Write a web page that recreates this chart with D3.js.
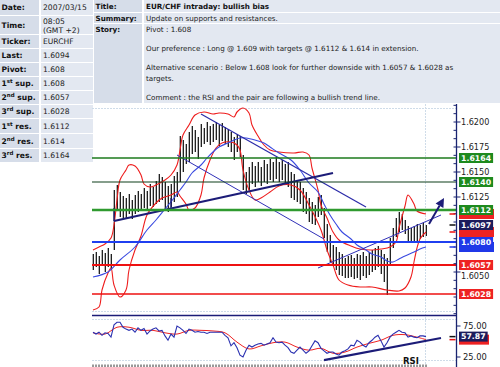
<!DOCTYPE html>
<html><head><meta charset="utf-8">
<script src="https://cdn.jsdelivr.net/npm/d3@7"></script>
<style>body{margin:0;background:#fff;} svg{display:block;}</style>
</head><body><svg id="c" width="500" height="367"></svg>
<script>
// ---------------- data ----------------
const infoLabels = ["Date:","Time:","Ticker:","Last:","Pivot:","1st sup.","2nd sup.","3rd sup.","1st res.","2nd res.","3rd res."];
const infoValues = ["2007/03/15","08:05|(GMT +2)","EURCHF","1.6094","1.608","1.608","1.6057","1.6028","1.6112","1.614","1.6164"];
const headLabels = ["Title:","Summary:","Story:"];
const headValues = ["EUR/CHF intraday: bullish bias","Update on supports and resistances."];
const storyParas = [
  ["Pivot : 1.608"],
  ["Our preference : Long @ 1.609 with targets @ 1.6112 & 1.614 in extension."],
  ["Alternative scenario : Below 1.608 look for further downside with 1.6057 & 1.6028 as","targets."],
  ["Comment : the RSI and the pair are following a bullish trend line."]
];

const barHigh = [1.6068,1.6070,1.6066,1.6072,1.6069,1.6074,1.6068,1.6132,1.6137,1.6130,
1.6126,1.6124,1.6128,1.6122,1.6127,1.6131,1.6128,1.6134,1.6131,1.6138,
1.6135,1.6141,1.6148,1.6145,1.6140,1.6136,1.6138,1.6146,1.6150,1.6186,
1.6182,1.6178,1.6190,1.6196,1.6192,1.6185,1.6198,1.6194,1.6200,1.6196,
1.6198,1.6200,1.6197,1.6199,1.6195,1.6193,1.6190,1.6185,1.6188,1.6186,
1.6167,1.6150,1.6155,1.6160,1.6156,1.6160,1.6155,1.6162,1.6158,1.6163,
1.6160,1.6165,1.6160,1.6162,1.6158,1.6160,1.6150,1.6148,1.6142,1.6140,
1.6134,1.6130,1.6124,1.6120,1.6117,1.6125,1.6127,1.6114,1.6098,1.6087,
1.6077,1.6075,1.6070,1.6068,1.6064,1.6066,1.6067,1.6064,1.6068,1.6067,
1.6070,1.6066,1.6070,1.6072,1.6074,1.6076,1.6072,1.6068,1.6064,1.6084,
1.6094,1.6104,1.6110,1.6108,1.6102,1.6096,1.6094,1.6096,1.6098,1.6097,
1.6099,1.6097];
const barLow = [1.6052,1.6055,1.6048,1.6056,1.6050,1.6055,1.6052,1.6072,1.6112,1.6105,
1.6104,1.6104,1.6108,1.6103,1.6108,1.6110,1.6112,1.6114,1.6113,1.6116,
1.6115,1.6118,1.6120,1.6122,1.6113,1.6110,1.6115,1.6120,1.6125,1.6140,
1.6150,1.6158,1.6160,1.6168,1.6170,1.6163,1.6175,1.6178,1.6180,1.6177,
1.6180,1.6182,1.6176,1.6181,1.6178,1.6175,1.6170,1.6162,1.6170,1.6165,
1.6132,1.6128,1.6132,1.6138,1.6135,1.6140,1.6136,1.6140,1.6138,1.6142,
1.6140,1.6143,1.6140,1.6142,1.6138,1.6135,1.6124,1.6122,1.6120,1.6118,
1.6110,1.6108,1.6100,1.6098,1.6097,1.6105,1.6107,1.6084,1.6070,1.6060,
1.6057,1.6052,1.6047,1.6046,1.6044,1.6044,1.6045,1.6043,1.6044,1.6042,
1.6046,1.6044,1.6047,1.6050,1.6052,1.6055,1.6048,1.6040,1.6027,1.6057,
1.6074,1.6085,1.6090,1.6092,1.6088,1.6080,1.6081,1.6080,1.6081,1.6083,
1.6085,1.6086];

// Bollinger bands and moving average: [bar, price]
const bbUpper = [[0,1.6072],[2,1.6075],[4,1.6078],[6,1.6084],[7,1.6097],[8,1.6122],[9,1.6142],[11,1.6152],[12,1.6157],[14,1.6156],[16,1.6147],[17,1.6138],[19,1.6135],[21,1.6137],[24,1.6142],[26,1.6147],[28,1.6157],[29,1.6172],[30,1.6187],[32,1.6197],[34,1.6207],[37,1.6210],[40,1.6208],[42,1.6209],[45,1.6208],[47,1.6205],[48,1.6210],[50,1.6214],[52,1.6209],[53,1.6197],[55,1.6186],[57,1.6177],[59,1.6172],[62,1.6170],[67,1.6169],[70,1.6170],[72,1.6167],[73,1.6154],[75,1.6132],[76,1.6117],[78,1.6104],[80,1.6090],[82,1.6082],[86,1.6076],[89,1.6073],[93,1.6072],[96,1.6073],[99,1.6075],[101,1.6080],[102,1.6094],[104,1.6116],[105,1.6127],[107,1.6118],[108,1.6111],[111,1.6108]];
const bbLower = [[0,1.6012],[2,1.6015],[3,1.6032],[5,1.6049],[6,1.6054],[7,1.6037],[9,1.6025],[11,1.6032],[12,1.6052],[14,1.6072],[16,1.6086],[18,1.6107],[21,1.6119],[23,1.6124],[26,1.6127],[28,1.6130],[29,1.6126],[31,1.6118],[32,1.6112],[34,1.6114],[36,1.6127],[37,1.6144],[39,1.6162],[41,1.6174],[43,1.6179],[46,1.6180],[48,1.6177],[49,1.6172],[50,1.6152],[52,1.6132],[54,1.6122],[56,1.6124],[59,1.6130],[62,1.6136],[66,1.6137],[69,1.6132],[72,1.6117],[76,1.6092],[78,1.6072],[80,1.6057],[82,1.6042],[85,1.6037],[89,1.6035],[93,1.6035],[98,1.6032],[102,1.6031],[104,1.6034],[106,1.6045],[107,1.6060],[108,1.6074],[109,1.6083],[111,1.6090]];
const maLine = [[0,1.6045],[5,1.6050],[9,1.6062],[14,1.6075],[18,1.6092],[21,1.6102],[24,1.6113],[27,1.6124],[29,1.6132],[31,1.6140],[33,1.6149],[36,1.6157],[38,1.6164],[40,1.6170],[42,1.6175],[45,1.6179],[47,1.6182],[49,1.6184],[51,1.6184],[54,1.6182],[57,1.6179],[59,1.6175],[62,1.6169],[66,1.6162],[69,1.6152],[72,1.6139],[75,1.6130],[77,1.6118],[79,1.6107],[81,1.6098],[83,1.6090],[86,1.6083],[88,1.6077],[91,1.6072],[93,1.6068],[96,1.6065],[98,1.6061],[100,1.6060],[102,1.6063],[104,1.6066],[107,1.6070],[109,1.6073],[111,1.6075]];

// drawn trend lines: [bar, price]
const supportTrend = [[7,1.6101],[80,1.6149]];
const supportMarks = [[7,1.6114,1.6101],[26,1.6124,1.6114]];
const channelUpper = [[36,1.6208],[91,1.6115]];
const channelLower = [[28,1.6167],[77,1.6083]];
const risingLine = [[75,1.6054],[116,1.6107]];
const arrowLine = [[112,1.6098],[117,1.6124]];

// levels
const levelValues = [1.6164,1.6140,1.6112,1.6080,1.6057,1.6028];
const levelKinds  = ["res3","res2","res1","pivot","sup2","sup3"];
const lastPrice = 1.6097;
const priceTicks = [1.6200,1.6175,1.6150,1.6125,1.6050];

// RSI
const rsi = [65,62,65,60,64,63,57,77,81,81,73,70,68,70,65,72,68,71,62,67,
70,72,67,68,59,52,62,57,75,72,68,63,70,68,65,66,65,65,63,65,
65,65,65,65,60,56,43,48,40,28,25,36,44,41,44,46,47,44,46,48,
56,49,48,49,44,40,33,31,36,41,36,31,35,43,51,48,39,35,31,33,
33,30,28,33,35,38,44,43,52,49,44,41,48,52,57,60,51,41,48,57,
62,65,68,65,64,57,59,57,56,59,59,57.87];
const rsiSignal = [[0,64],[4,62],[8,73],[12,73],[16,68],[20,68],[24,64],[28,62],[32,68],[36,68],[40,67],[44,64],[48,49],[52,38],[56,43],[60,48],[64,49],[68,41],[72,36],[76,39],[80,31],[84,33],[88,41],[92,47],[96,52],[100,60],[104,61],[108,57],[111,53]];
const rsiTrend = [[77,20],[116,55.6]];
const rsiTicks = [75,25];

// ---------------- drawing ----------------
const FONT = "'DejaVu Sans', Verdana, sans-serif";
const svg = d3.select("#c");
const labelFill = "#d6dde9", valueFill = "#e3e8f1";
const navy = "#1c1c78";

// left info table
const rowH = [15,18,13,13,13,13,13,13,14,14,13];
let ty = 0;
infoLabels.forEach((lab,i)=>{
  const h = rowH[i];
  svg.append("rect").attr("x",0).attr("y",ty).attr("width",39).attr("height",h).attr("fill",labelFill);
  svg.append("rect").attr("x",41).attr("y",ty).attr("width",52).attr("height",h).attr("fill",valueFill);
  const t = svg.append("text").attr("x",1.5).attr("y",ty+h/2+2.8)
    .attr("font-family",FONT).attr("font-size",7.6).attr("font-weight","bold").attr("fill","#111");
  const m = lab.match(/^(\d)(st|nd|rd)(.*)$/);
  if (m) {
    t.append("tspan").text(m[1]);
    t.append("tspan").attr("font-size",5.5).attr("dy",-3).text(m[2]);
    t.append("tspan").attr("dy",3).text(m[3]);
  } else t.text(lab);
  const parts = infoValues[i].split("|");
  parts.forEach((p,k)=>{
    svg.append("text").attr("x",43).attr("y", parts.length>1 ? ty+7.5+k*9 : ty+h/2+2.8)
      .attr("font-family",FONT).attr("font-size",7.6).attr("fill","#222").text(p);
  });
  ty += h+1;
});

// header table
const hRows = [[0,12],[13,10],[24,79]];
headLabels.forEach((lab,i)=>{
  const [y0,h] = hRows[i];
  svg.append("rect").attr("x",94).attr("y",y0).attr("width",48).attr("height",h).attr("fill",labelFill);
  svg.append("rect").attr("x",144).attr("y",y0).attr("width",356).attr("height",h).attr("fill",valueFill);
  svg.append("text").attr("x",95.5).attr("y",y0+(i<2?h/2+2.6:7.5)).attr("font-family",FONT)
    .attr("font-size",7.2).attr("font-weight","bold").attr("fill","#111").text(lab);
  if (i<2) svg.append("text").attr("x",146).attr("y",y0+h/2+2.6).attr("font-family",FONT)
    .attr("font-size",7.2).attr("font-weight",i===0?"bold":"normal").attr("fill",i===0?"#111":"#222").text(headValues[i]);
});
let sy = 31.5;
storyParas.forEach((para)=>{
  para.forEach((line,k)=>{
    svg.append("text").attr("x",146).attr("y",sy).attr("font-family",FONT)
      .attr("font-size",7.2).attr("fill","#222").text(line);
    sy += 11;
  });
  sy += 8;
});

// ---------------- chart ----------------
const x = d3.scaleLinear().domain([0,111]).range([93,426]);
const y = d3.scaleLinear().domain([1.6000,1.6200]).range([322,122]);
const yr = d3.scaleLinear().domain([25,75]).range([357,326]);
const AX = 456.5, L = 92;

const defs = svg.append("defs");
defs.append("clipPath").attr("id","pc").append("rect").attr("x",L).attr("y",106).attr("width",AX-L).attr("height",205);
defs.append("clipPath").attr("id","rc").append("rect").attr("x",L).attr("y",317).attr("width",AX-L).attr("height",47);

const grid = svg.append("g").attr("stroke","#cfdce9").attr("stroke-width",1).attr("stroke-dasharray","2,1");
[108.5,311.5,319.5,360.5].forEach(v=>grid.append("line").attr("x1",L).attr("x2",AX).attr("y1",v).attr("y2",v));
grid.append("line").attr("x1",425.5).attr("x2",425.5).attr("y1",104).attr("y2",364);

const pg = svg.append("g").attr("clip-path","url(#pc)");

// bars
const idx = d3.range(barHigh.length);
pg.append("g").selectAll("line").data(idx).join("line")
  .attr("x1",i=>x(i)).attr("x2",i=>x(i)).attr("y1",i=>y(barHigh[i])).attr("y2",i=>y(barLow[i]))
  .attr("stroke","#b4b4b4").attr("stroke-width",2);
pg.append("g").selectAll("line").data(idx).join("line")
  .attr("x1",i=>x(i)+0.5).attr("x2",i=>x(i)+0.5).attr("y1",i=>y(barHigh[i])).attr("y2",i=>y(barLow[i]))
  .attr("stroke","#222").attr("stroke-width",1);

const curve = d3.line().x(d=>x(d[0])).y(d=>y(d[1])).curve(d3.curveCatmullRom.alpha(0.5));
pg.append("path").attr("d",curve(bbUpper)).attr("fill","none").attr("stroke","#ee1c1c").attr("stroke-width",1.1);
pg.append("path").attr("d",curve(bbLower)).attr("fill","none").attr("stroke","#ee1c1c").attr("stroke-width",1.1);
pg.append("path").attr("d",curve(maLine)).attr("fill","none").attr("stroke","#3a4ae0").attr("stroke-width",1.1);

// levels
const levelStyle = {
  res3:{c:"#1d7a1d",w:1.5,box:"#1e8a1e"},
  res2:{c:"#0f3f1a",w:1.2,box:"#1e8a1e"},
  res1:{c:"#2f9a2f",w:2.4,box:"#1e8a1e"},
  pivot:{c:"#1f3ff0",w:2,box:"#2038e8"},
  sup2:{c:"#ee1111",w:2,box:"#ee2222"},
  sup3:{c:"#ee1111",w:1.6,box:"#ee2222"}
};
levelValues.forEach((v,i)=>{
  const s = levelStyle[levelKinds[i]];
  svg.append("line").attr("x1",L).attr("x2",AX).attr("y1",y(v)).attr("y2",y(v))
    .attr("stroke",s.c).attr("stroke-width",s.w);
});

// trend lines
const sl = d3.line().x(d=>x(d[0])).y(d=>y(d[1]));
pg.append("path").attr("d",sl(channelUpper)).attr("stroke","#2a2aa8").attr("stroke-width",1.2).attr("fill","none");
pg.append("path").attr("d",sl(channelLower)).attr("stroke","#3030b8").attr("stroke-width",1).attr("fill","none");
pg.append("path").attr("d",sl(risingLine)).attr("stroke","#3030b8").attr("stroke-width",1).attr("fill","none");
pg.append("path").attr("d",sl(supportTrend)).attr("stroke",navy).attr("stroke-width",2.2).attr("fill","none");
supportMarks.forEach(m=>{
  pg.append("line").attr("x1",x(m[0])).attr("x2",x(m[0])).attr("y1",y(m[1])).attr("y2",y(m[2]))
    .attr("stroke",navy).attr("stroke-width",1.3);
});
// arrow
{
  const x1=x(arrowLine[0][0]), y1=y(arrowLine[0][1]), x2=x(arrowLine[1][0]), y2=y(arrowLine[1][1]);
  const ang = Math.atan2(y2-y1,x2-x1), hl=9, hw=4.5;
  const bx = x2-hl*Math.cos(ang), by = y2-hl*Math.sin(ang);
  svg.append("line").attr("x1",x1).attr("y1",y1).attr("x2",bx).attr("y2",by).attr("stroke",navy).attr("stroke-width",2);
  svg.append("polygon").attr("points",[[x2,y2],[bx+hw*Math.sin(ang),by-hw*Math.cos(ang)],[bx-hw*Math.sin(ang),by+hw*Math.cos(ang)]].map(p=>p.join(",")).join(" "))
    .attr("fill",navy);
}

// separator
svg.append("line").attr("x1",L).attr("x2",AX).attr("y1",315.5).attr("y2",315.5).attr("stroke",navy).attr("stroke-width",1.5);

// RSI
const rg = svg.append("g").attr("clip-path","url(#rc)");
const rl = d3.line().x(d=>x(d[0])).y(d=>yr(d[1]));
rg.append("path").attr("d",rl.curve(d3.curveCatmullRom.alpha(0.5))(rsiSignal)).attr("fill","none").attr("stroke","#ee2222").attr("stroke-width",1);
rg.append("path").attr("d",d3.line().x((d,i)=>x(i)).y(d=>yr(d))(rsi)).attr("fill","none").attr("stroke","#2a30b0").attr("stroke-width",1.1);
svg.append("path").attr("d",d3.line().x(d=>x(d[0])).y(d=>yr(d[1]))(rsiTrend)).attr("stroke",navy).attr("stroke-width",2.2).attr("fill","none");
svg.append("text").attr("x",403).attr("y",363.5).attr("font-family",FONT).attr("font-size",8.5).attr("font-weight","bold").attr("fill","#111").text("RSI");

// bottom ticks
svg.append("g").selectAll("line").data(idx).join("line")
  .attr("x1",i=>x(i)).attr("x2",i=>x(i)).attr("y1",364.5).attr("y2",367).attr("stroke","#333").attr("stroke-width",1);

// axis
svg.append("line").attr("x1",AX).attr("x2",AX).attr("y1",104).attr("y2",367).attr("stroke","#1a2470").attr("stroke-width",1.3);
d3.range(0,26).forEach(k=>{
  const v = 1.6200 + 0.0025/3*2 - k*0.0025/3;
  svg.append("line").attr("x1",AX-3).attr("x2",AX).attr("y1",y(v)).attr("y2",y(v)).attr("stroke","#1a2470").attr("stroke-width",1);
});
const boxYs = levelValues.map(v=>y(v)).concat([y(lastPrice)]);
priceTicks.forEach(v=>{
  svg.append("line").attr("x1",AX).attr("x2",AX+4).attr("y1",y(v)).attr("y2",y(v)).attr("stroke","#1a2470");
  // push a tick label away from a value box that sits too close to it
  let ly = y(v);
  boxYs.forEach(b=>{ if (Math.abs(ly-b) < 10) ly = ly > b ? b+10.5 : b-10.5; });
  svg.append("text").attr("x",461).attr("y",ly+3).attr("font-family",FONT).attr("font-size",8.1).attr("fill","#222").text(v.toFixed(4));
});
rsiTicks.forEach(v=>{
  svg.append("line").attr("x1",AX).attr("x2",AX+4).attr("y1",yr(v)).attr("y2",yr(v)).attr("stroke","#1a2470");
  svg.append("text").attr("x",463).attr("y",yr(v)+3).attr("font-family",FONT).attr("font-size",8.3).attr("fill","#222").text(v.toFixed(2));
});

function box(yy, txt, fill, w){
  const r = svg.append("rect").attr("x",459).attr("y",yy-5).attr("height",10).attr("fill",fill);
  if (txt === null) { r.attr("width",w); return; }
  const t = svg.append("text").attr("x",461).attr("y",yy+2.8).attr("font-family",FONT).attr("font-size",7.8)
    .attr("font-weight","bold").attr("fill","#fff").text(txt);
  r.attr("width",t.node().getComputedTextLength()+4);
}
function tick(yy, col){
  svg.append("line").attr("x1",AX-7).attr("x2",AX-1).attr("y1",yy).attr("y2",yy).attr("stroke",col).attr("stroke-width",1.5);
}
// indicator value boxes (mostly hidden behind the level boxes)
const upEnd = bbUpper[bbUpper.length-1][1], loEnd = bbLower[bbLower.length-1][1], maEnd = maLine[maLine.length-1][1];
tick(y(upEnd),"#ee1111"); box(y(upEnd), null, "#ee2222", 35);
tick(y(loEnd),"#ee1111"); box(y(loEnd), null, "#ee2222", 35);
tick(y(maEnd),"#2038e8"); box(y(maEnd), null, "#2038e8", 35);
levelValues.forEach((v,i)=> box(y(v), v.toFixed(4), levelStyle[levelKinds[i]].box));
tick(y(lastPrice),"#111"); box(y(lastPrice), lastPrice.toFixed(4), "#1c1c5c");
const sigEnd = rsiSignal[rsiSignal.length-1][1], rsiEnd = rsi[rsi.length-1];
tick(yr(sigEnd),"#ee1111"); box(yr(sigEnd), null, "#ee2222", 30);
tick(yr(rsiEnd),"#111"); box(yr(rsiEnd), rsiEnd.toFixed(2), "#1c1c5c");
</script></body></html>
